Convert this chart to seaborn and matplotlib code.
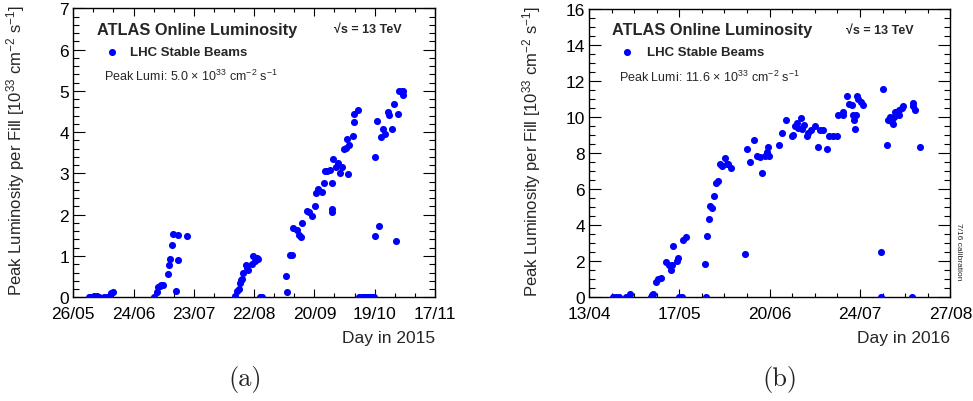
import matplotlib
matplotlib.use("Agg")
import matplotlib.pyplot as plt
import matplotlib.dates as mdates
import numpy as np
import pandas as pd
import seaborn as sns

# peak lumi per fill [1e33 cm-2 s-1], x = days after the first axis date
days_2015 = [7.7, 8.8, 10.1, 11.3, 12.4, 14.8, 16.1, 17.4, 18.5, 19.4,
             39.2, 40.3, 40.8, 41.9, 42.6, 43.2, 45.6, 46.3, 46.8, 47.9, 48.4, 49.7, 50.5, 50.8, 54.8,
             78.2, 79.0, 80.2, 80.6, 81.1, 81.8, 82.3, 83.4, 83.9, 84.7, 86.6, 87.1, 87.9, 88.7, 89.5, 90.3, 91.5,
             102.9, 103.2, 104.8, 105.8, 106.5, 108.1, 109.4, 110.0, 110.8, 112.9, 114.2, 115.3, 116.9, 117.3,
             118.5, 120.2, 121.3, 121.8, 122.9, 124.2, 125.2, 125.3, 125.3, 125.8, 127.1, 128.2, 129.0, 130.2,
             131.1, 131.9, 132.3, 133.1, 133.2, 135.5, 136.0, 136.0, 137.9,
             138.4, 139.5, 140.5, 141.5, 142.5, 143.5, 144.5, 145.3,
             146.1, 146.1, 146.8, 148.1, 148.9, 149.7, 150.8, 152.1, 152.6, 154.0, 155.0, 156.1, 156.9,
             157.7, 159.0, 159.4, 159.7]
lumi_2015 = [0.0, 0.01, 0.02, 0.02, 0.01, 0.0, 0.0, 0.01, 0.10, 0.14,
             0.0, 0.14, 0.24, 0.28, 0.30, 0.30, 0.56, 0.77, 0.93, 1.27, 1.53, 0.15, 1.52, 0.90, 1.49,
             0.04, 0.16, 0.20, 0.35, 0.43, 0.44, 0.58, 0.78, 0.70, 0.67, 0.81, 1.01, 0.89, 0.94, 0.93, 0.0, 0.0,
             0.52, 0.12, 1.03, 1.02, 1.67, 1.64, 1.51, 1.46, 1.79, 2.10, 2.07, 1.96, 2.22, 2.52,
             2.62, 2.54, 2.77, 3.07, 3.07, 3.09, 2.15, 2.06, 2.77, 3.35, 3.16, 3.25, 3.01, 3.15,
             3.58, 3.61, 3.83, 2.99, 3.69, 3.90, 4.24, 4.43, 4.54,
             0.0, 0.0, 0.0, 0.0, 0.0, 0.0, 0.0, 0.0,
             3.39, 1.48, 4.26, 1.72, 3.89, 4.08, 3.95, 4.48, 4.41, 4.08, 4.67, 1.37, 4.44,
             5.00, 5.00, 4.91, 5.00]

days_2016 = [9.2, 10.2, 11.4, 13.8, 15.4,
             23.2, 23.7, 24.2, 25.2, 26.1, 27.0, 29.0, 30.2, 30.9, 31.2, 31.5, 33.0, 33.6, 34.0, 35.0, 35.3, 36.5,
             43.7, 44.0, 44.5, 45.2, 45.5, 46.3, 47.2, 47.7, 48.4, 49.2, 50.2, 51.2, 51.8, 52.4, 53.3,
             58.8, 59.6, 60.6, 62.2, 63.1, 64.4, 65.0, 66.2, 66.9, 67.5, 67.6,
             71.5, 72.7, 74.2, 76.3, 76.9, 77.6, 78.2, 78.8, 79.7, 80.0, 80.9, 81.9, 82.6, 83.4, 85.1,
             86.3, 86.9, 87.9, 89.7, 90.3, 91.7, 93.2, 93.9, 95.5, 95.7, 97.3, 97.8, 98.9, 99.2, 99.9,
             100.1, 100.5, 100.7, 101.4, 102.4, 103.3,
             110.0, 110.0, 110.5, 112.1, 112.7, 113.3, 113.9, 114.3, 114.8, 115.2, 116.5, 116.8, 117.7,
             118.3, 121.6, 122.0, 122.1, 122.7, 124.6]
lumi_2016 = [0.0, 0.0, 0.0, 0.0, 0.18,
             0.0, 0.10, 0.18, 0.87, 1.00, 1.05, 1.98, 1.80, 1.54, 1.80, 2.84, 2.04, 2.17, 0.0, 0.0, 3.16, 3.35,
             1.85, 0.0, 3.41, 4.34, 5.08, 4.97, 5.64, 6.33, 6.45, 7.39, 7.31, 7.73, 7.39, 7.39, 7.17,
             2.38, 8.22, 7.53, 8.74, 7.82, 7.77, 6.88, 7.82, 8.05, 8.37, 7.87,
             8.43, 9.12, 9.82, 8.98, 9.02, 9.49, 9.68, 9.40, 9.96, 9.36, 9.58, 8.98, 9.12, 9.31, 9.49,
             8.37, 9.31, 9.31, 8.24, 8.98, 8.98, 8.98, 10.10, 10.29, 10.14, 11.20, 10.74, 10.70, 10.10, 9.82,
             9.36, 10.10, 11.17, 11.03, 10.83, 10.66,
             2.50, 0.0, 11.56, 8.47, 9.86, 9.99, 9.73, 9.62, 9.99, 10.29, 10.10, 10.42, 10.51,
             10.60, 0.0, 10.80, 10.60, 10.42, 8.32]

ticks_2015 = ["26/05", "24/06", "23/07", "22/08", "20/09", "19/10", "17/11"]
ticks_2016 = ["13/04", "17/05", "20/06", "24/07", "27/08"]

sns.set_theme(style="white")
plt.rcParams["font.family"] = ["Liberation Sans", "DejaVu Sans"]
plt.rcParams["mathtext.fontset"] = "custom"
plt.rcParams["mathtext.rm"] = "Liberation Sans"
plt.rcParams["mathtext.it"] = "Liberation Sans:italic"
plt.rcParams["mathtext.bf"] = "Liberation Sans:bold"

fig = plt.figure(figsize=(9.73, 4.02), dpi=100)
ax_a = fig.add_axes([0.0753, 0.258, 0.3717, 0.719])
ax_b = fig.add_axes([0.6053, 0.258, 0.3714, 0.717])


def draw_panel(ax, start, span, days, lumi, labels, x_sub, ymax, y_major, y_sub, year, peak, xs):
    t0 = pd.Timestamp(start)
    dates = t0 + pd.to_timedelta(days, unit="D")
    sns.scatterplot(x=dates, y=lumi, ax=ax, color="#0000ff", s=26, linewidth=0, zorder=3)

    x0 = mdates.date2num(t0)
    x1 = mdates.date2num(t0 + pd.Timedelta(days=span))
    n = len(labels) - 1
    ax.set_xlim(x0, x1)
    ax.set_xticks(np.linspace(x0, x1, n + 1), labels)
    ax.set_xticks(np.linspace(x0, x1, n * x_sub + 1), minor=True)
    ax.set_ylim(0, ymax)
    ax.set_yticks(np.arange(0, ymax + 0.01, y_major))
    ax.set_yticks(np.arange(0, ymax + 0.01, y_major / y_sub), minor=True)

    ax.tick_params(which="both", direction="in", top=True, right=True, bottom=True, left=True,
                   colors="black", labelsize=12.5)
    ax.tick_params(axis="x", which="major", length=5.5, width=0.8, pad=6)
    ax.tick_params(axis="x", which="minor", length=2.8, width=0.8)
    ax.tick_params(axis="y", which="major", length=8.5, width=0.8, pad=3)
    ax.tick_params(axis="y", which="minor", length=4.3, width=0.8)
    for sp in ax.spines.values():
        sp.set_color("black")
        sp.set_linewidth(1.0)

    ax.set_ylabel("Peak Luminosity per Fill [10$^{33}$ cm$^{-2}$ s$^{-1}$]", fontsize=12)
    ax.yaxis.set_label_coords(-0.128, 0.51)
    ax.set_xlabel(f"Day in {year}", fontsize=12.5, loc="right", va="top")
    ax.xaxis.set_label_coords(1.0, -0.112)

    ax.text(xs[0], 0.928, "ATLAS Online Luminosity", transform=ax.transAxes,
            fontsize=11.8, fontweight="bold", va="center", ha="left")
    ax.text(xs[1], 0.928, "\u221As = 13 TeV", transform=ax.transAxes,
            fontsize=9, fontweight="bold", va="center", ha="left")
    ax.scatter([xs[2]], [0.85], transform=ax.transAxes, color="#0000ff", s=26, linewidth=0)
    ax.text(xs[3], 0.85, "LHC Stable Beams", transform=ax.transAxes,
            fontsize=9.5, fontweight="bold", va="center", ha="left")
    ax.text(xs[4], 0.767, f"Peak Lumi: {peak} \u00d7 10$^{{33}}$ cm$^{{-2}}$ s$^{{-1}}$",
            transform=ax.transAxes, fontsize=9, va="center", ha="left")


draw_panel(ax_a, "2015-05-26", 175, days_2015, lumi_2015, ticks_2015, 3, 7, 1, 5, 2015, "5.0",
           [0.067, 0.72, 0.107, 0.157, 0.084])
draw_panel(ax_b, "2016-04-13", 136, days_2016, lumi_2016, ticks_2016, 4, 16, 2, 4, 2016, "11.6",
           [0.065, 0.71, 0.104, 0.16, 0.084])

fig.text(0.985, 0.373, "7/16 calibration", rotation=270, fontsize=6, ha="center", va="center")

fig.text(0.252, 0.055, "(a)", family="cmr10", fontsize=19, ha="center", va="center")
fig.text(0.802, 0.055, "(b)", family="cmr10", fontsize=19, ha="center", va="center")

fig.savefig("out.png", dpi=100)
